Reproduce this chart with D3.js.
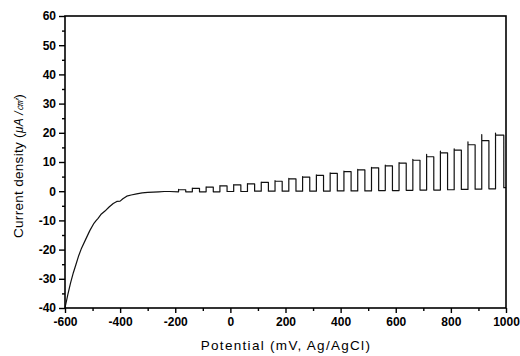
<!DOCTYPE html>
<html>
<head>
<meta charset="utf-8">
<script src="https://cdn.jsdelivr.net/npm/d3@7"></script>
<style>
  body { margin: 0; background: #fff; }
  svg { display: block; }
  .tick text { font-family: "Liberation Sans", Arial, sans-serif; font-weight: bold; font-size: 12px; fill: #000; }
</style>
</head>
<body>
<svg id="chart" width="520" height="356"></svg>
<script>
// dark (cathodic) part of the sweep
const darkPotential = [-600, -590, -580, -570, -560, -550, -540, -525, -510, -495, -488, -480, -470,
    -455, -440, -425, -412, -400, -390, -376, -360, -340, -320, -300, -280, -260, -240, -220, -188]
const darkCurrent = [-40, -35.5, -31.5, -28, -25, -22, -19.5, -16.5, -13.5, -11, -10.2, -9.3, -8,
    -6.8, -5.4, -4.2, -3.5, -3.4, -2.6, -1.7, -1.3, -0.9, -0.6, -0.4, -0.3, -0.2, -0.1, -0.1, -0.2]

// chopped light pulses
const pulseOn = [-188, -138, -88, -38, 12, 62, 112, 162, 212, 262, 312, 362, 412, 462, 512, 562,
    612, 662, 712, 762, 812, 862, 912, 962]
const pulseOff = [-162, -112, -62, -12, 38, 88, 138, 188, 238, 288, 338, 388, 438, 488, 538, 588,
    638, 688, 738, 788, 838, 888, 938, 992]
const pulsePeak = [0.6, 1.1, 1.5, 1.9, 2.3, 2.6, 3.1, 3.6, 4.4, 5.0, 5.6, 6.3, 6.9, 7.5, 8.2, 8.9,
    9.8, 10.9, 12.6, 13.7, 14.5, 16.9, 19.4, 19.9]
const pulsePlateau = [0.5, 1.0, 1.4, 1.8, 2.2, 2.5, 3.0, 3.4, 4.2, 4.8, 5.4, 6.1, 6.7, 7.3, 8.0, 8.7,
    9.6, 10.6, 11.8, 13.1, 14.1, 15.9, 17.3, 19.2]
const pulseLow = [-0.2, -0.2, -0.2, -0.1, -0.1, 0, 0, 0, 0, 0, 0, 0.1, 0.1, 0.1, 0.2, 0.2,
    0.3, 0.4, 0.4, 0.5, 0.6, 0.7, 0.8, 1.2]
const endPotential = 1000

const xMajor = [-600, -400, -200, 0, 200, 400, 600, 800, 1000]
const xMinor = [-500, -300, -100, 100, 300, 500, 700, 900]
const yMajor = [-40, -30, -20, -10, 0, 10, 20, 30, 40, 50, 60]
const yMinor = [-35, -25, -15, -5, 5, 15, 25, 35, 45, 55]

const svg = d3.select("#chart")
const plot = { left: 65, right: 506, top: 16, bottom: 308 }
const font = '"Liberation Sans", Arial, sans-serif'
const plain = d => String(d)   // keep ascii hyphen, no thousands comma

const x = d3.scaleLinear().domain([-600, 1000]).range([plot.left, plot.right])
const y = d3.scaleLinear().domain([-40, 60]).range([plot.bottom, plot.top])

// build the trace
var points = darkPotential.map((p, i) => [p, darkCurrent[i]])
pulseOn.forEach((on, i) => {
    var before = points[points.length - 1][1]
    points.push([on, before])
    points.push([on, pulsePeak[i]])
    points.push([on, pulsePlateau[i]])
    points.push([pulseOff[i], pulsePlateau[i]])
    points.push([pulseOff[i], pulseLow[i]])
})
points.push([endPotential, pulseLow[pulseLow.length - 1]])

// axes
svg.append("g")
    .attr("transform", `translate(0,${plot.bottom})`)
    .call(d3.axisBottom(x).tickValues(xMajor).tickFormat(plain).tickSize(5).tickPadding(4).tickSizeOuter(0))
svg.append("g")
    .attr("transform", `translate(0,${plot.bottom})`)
    .call(d3.axisBottom(x).tickValues(xMinor).tickSize(3).tickFormat("").tickSizeOuter(0))
svg.append("g")
    .attr("transform", `translate(${plot.left},0)`)
    .call(d3.axisLeft(y).tickValues(yMajor).tickFormat(plain).tickSize(6).tickPadding(3).tickSizeOuter(0))
svg.append("g")
    .attr("transform", `translate(${plot.left},0)`)
    .call(d3.axisLeft(y).tickValues(yMinor).tickSize(3).tickFormat("").tickSizeOuter(0))

svg.selectAll(".domain").remove()
svg.selectAll(".tick line").attr("stroke", "#000").attr("stroke-width", 1.4)

// trace
svg.append("path")
    .datum(points)
    .attr("fill", "none")
    .attr("stroke", "#111")
    .attr("stroke-width", 1.2)
    .attr("stroke-linejoin", "round")
    .attr("d", d3.line().x(d => x(d[0])).y(d => y(d[1])))

// frame
svg.append("rect")
    .attr("x", plot.left)
    .attr("y", plot.top)
    .attr("width", plot.right - plot.left)
    .attr("height", plot.bottom - plot.top)
    .attr("fill", "none")
    .attr("stroke", "#000")
    .attr("stroke-width", 1.6)

// axis titles
svg.append("text")
    .attr("x", 286)
    .attr("y", 350)
    .attr("text-anchor", "middle")
    .style("font-family", font)
    .style("font-size", "13.5px")
    .style("letter-spacing", "1.3px")
    .text("Potential (mV, Ag/AgCl)")

var yTitle = svg.append("text")
    .attr("transform", `translate(23,${(plot.top + plot.bottom) / 2 + 4}) rotate(-90)`)
    .attr("text-anchor", "middle")
    .style("font-family", font)
    .style("font-size", "13.5px")
    .style("letter-spacing", "0.3px")
yTitle.append("tspan").text("Current density (")
yTitle.append("tspan").style("font-style", "italic").style("font-size", "12px").text("μA /㎠")
yTitle.append("tspan").text(")")
</script>
</body>
</html>
